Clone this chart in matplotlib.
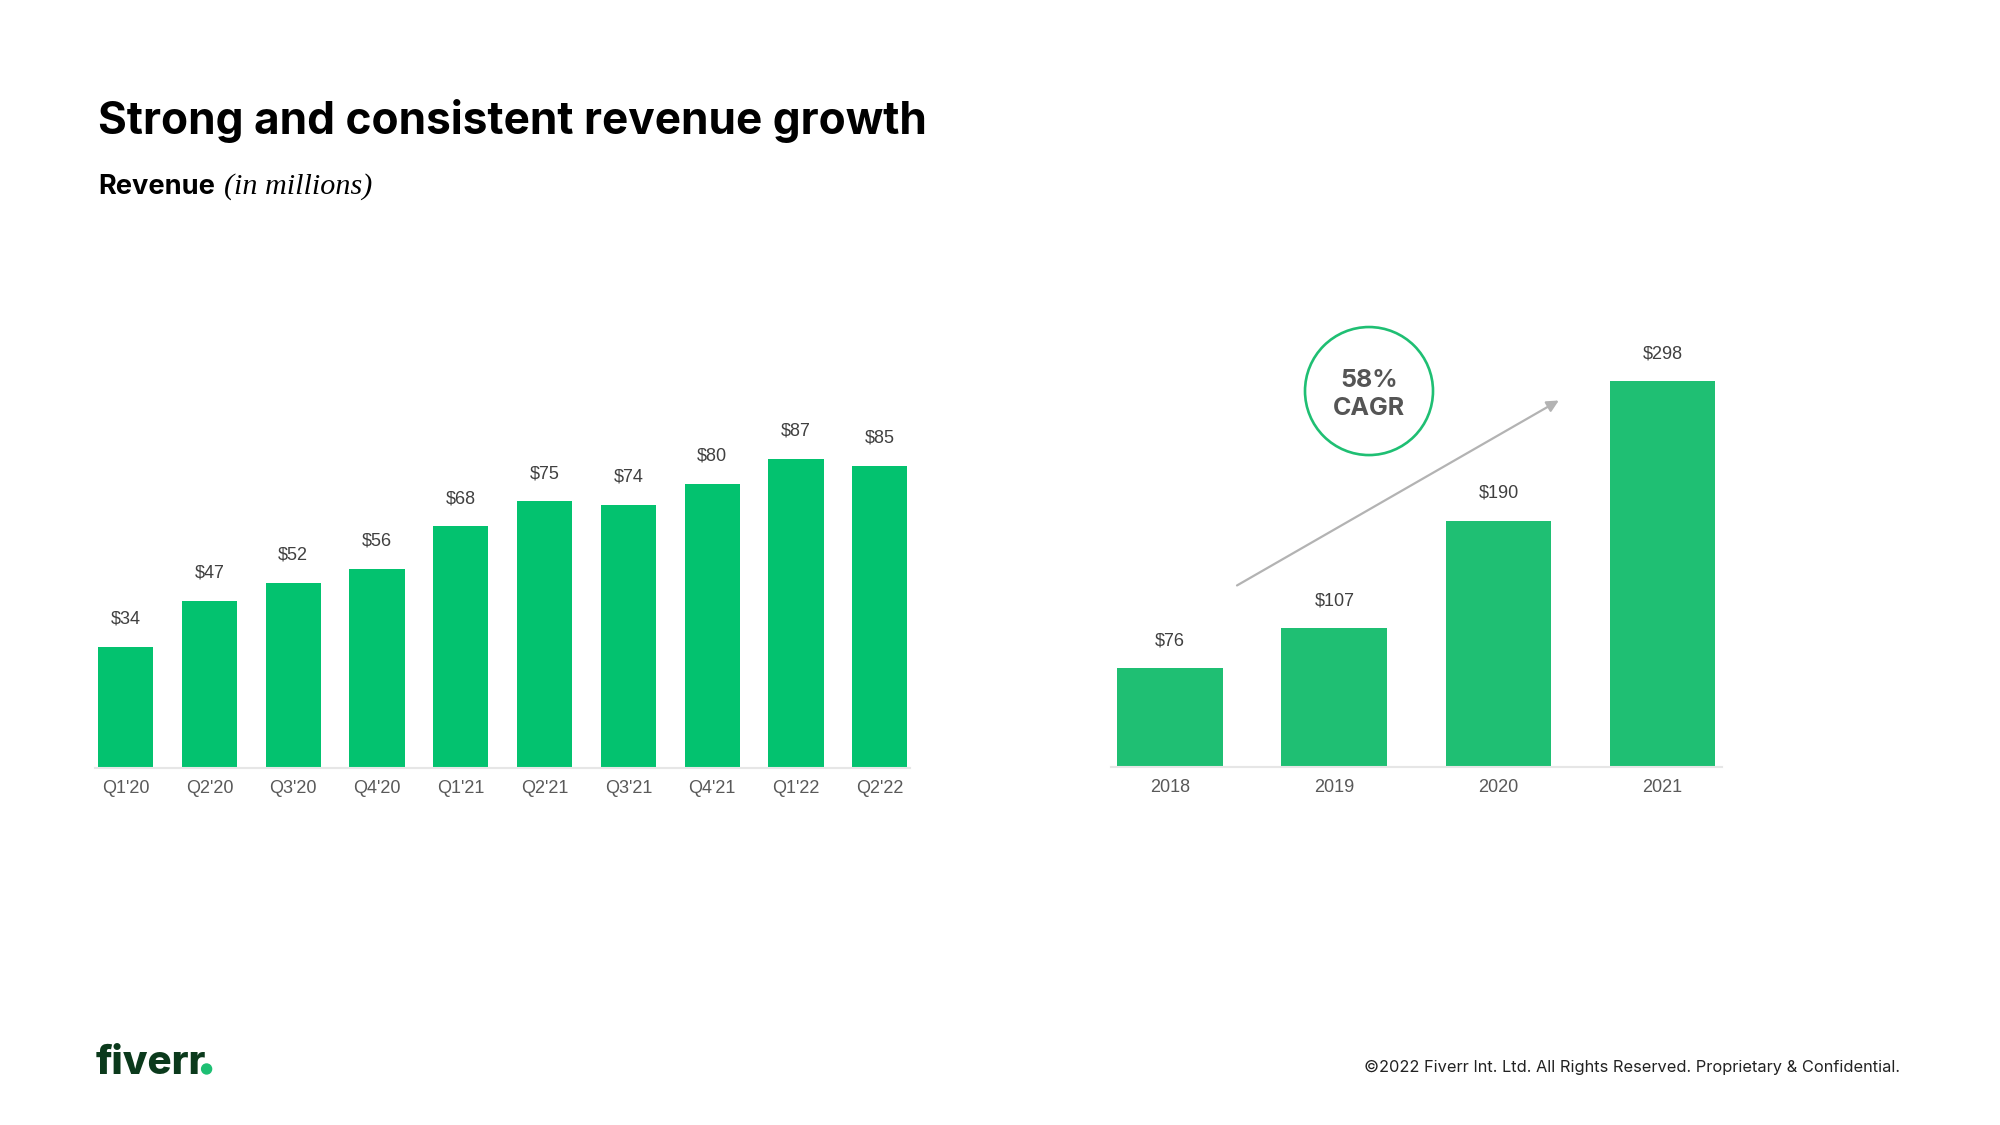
import matplotlib
matplotlib.use("Agg")
import matplotlib.pyplot as plt
from matplotlib.patches import Ellipse, FancyArrowPatch

# ---- data ----
quarters = ["Q1'20", "Q2'20", "Q3'20", "Q4'20", "Q1'21", "Q2'21", "Q3'21", "Q4'21", "Q1'22", "Q2'22"]
quarter_revenue = [34, 47, 52, 56, 68, 75, 74, 80, 87, 85]
years = ["2018", "2019", "2020", "2021"]
annual_revenue = [76, 107, 190, 298]
cagr_text = "58%"

LEFT_GREEN = "#03c26f"
RIGHT_GREEN = "#1fbf73"
LABEL_COLOR = "#404040"
TICK_COLOR = "#595959"
BASE_COLOR = "#e6e6e6"
LABEL_SIZE = 13

fig = plt.figure(figsize=(20, 11.25), dpi=100)
fig.patch.set_facecolor("white")


def style_axes(ax, xlim, ylim):
    ax.set_xlim(*xlim)
    ax.set_ylim(*ylim)
    for s in ["top", "right", "left"]:
        ax.spines[s].set_visible(False)
    ax.spines["bottom"].set_color(BASE_COLOR)
    ax.spines["bottom"].set_linewidth(1.5)
    ax.set_yticks([])
    ax.tick_params(axis="x", length=0, pad=9, labelcolor=TICK_COLOR)
    for lab in ax.get_xticklabels():
        lab.set_fontfamily("Liberation Sans")
        lab.set_fontsize(LABEL_SIZE)


# ---- left chart: quarterly ----
ax1 = fig.add_axes([0.0477, 0.3175, 0.4073, 0.3141])
x1 = list(range(len(quarters)))
bars1 = ax1.bar(x1, quarter_revenue, width=0.66, color=LEFT_GREEN)
ax1.set_xticks(x1)
ax1.set_xticklabels(quarters)
style_axes(ax1, (-0.36, len(quarters) - 1 + 0.36), (0, 99.5))
for b, v in zip(bars1, quarter_revenue):
    ax1.annotate(f"${v}", xy=(b.get_x() + b.get_width() / 2, v), xytext=(0, 20),
                 textcoords="offset points", ha="center", va="center",
                 fontsize=LABEL_SIZE, family="Liberation Sans", color=LABEL_COLOR)

# ---- right chart: annual ----
ax2 = fig.add_axes([0.5556, 0.3185, 0.3052, 0.3677])
x2 = list(range(len(years)))
bars2 = ax2.bar(x2, annual_revenue, width=0.645, color=RIGHT_GREEN)
ax2.set_xticks(x2)
ax2.set_xticklabels(years)
style_axes(ax2, (-0.36, len(years) - 1 + 0.36), (0, 320))
for b, v in zip(bars2, annual_revenue):
    ax2.annotate(f"${v}", xy=(b.get_x() + b.get_width() / 2, v), xytext=(0, 20),
                 textcoords="offset points", ha="center", va="center",
                 fontsize=LABEL_SIZE, family="Liberation Sans", color=LABEL_COLOR)

# CAGR arrow
fig.add_artist(FancyArrowPatch(
    (0.6185, 0.4796), (0.7794, 0.6440), transform=fig.transFigure,
    arrowstyle="-|>,head_length=7,head_width=3.5", color="#b3b3b3", lw=1.6,
    shrinkA=0, shrinkB=0))

# CAGR circle
fig.add_artist(Ellipse((0.6845, 0.6524), 0.064, 0.1138, transform=fig.transFigure,
                       fill=False, edgecolor="#1fbf73", lw=1.9))
fig.text(0.6845, 0.6618, cagr_text, ha="center", va="center", fontsize=18,
         family="Inter", weight="bold", color="#555555")
fig.text(0.6845, 0.6369, "CAGR", ha="center", va="center", fontsize=18,
         family="Inter", weight="bold", color="#555555")

# ---- titles ----
fig.text(0.049, 0.8809, "Strong and consistent revenue growth", ha="left", va="baseline",
         fontsize=31.8, family="Inter", weight="bold", color="#000000")
t_rev = fig.text(0.049, 0.8276, "Revenue", ha="left", va="baseline",
                 fontsize=19.6, family="Inter", weight="bold", color="#000000")
t_unit = fig.text(0.1, 0.8276, "(in millions)", ha="left", va="baseline", fontsize=21.7,
                  family="Liberation Serif", style="italic", color="#000000")
fig.canvas.draw()
bb = t_rev.get_window_extent()
t_unit.set_position(((bb.x1 + 9) / 2000, 0.8276))

# ---- footer ----
fig.text(0.048, 0.0453, "fiverr", ha="left", va="baseline", fontsize=29,
         family="Inter", weight="heavy", color="#0b3a1c")
fig.add_artist(Ellipse((0.1033, 0.0498), 10 / 2000, 10 / 1125, transform=fig.transFigure,
                       color="#1dbf73"))
fig.text(0.95, 0.051, "\u00a92022 Fiverr Int. Ltd. All Rights Reserved. Proprietary & Confidential.",
         ha="right", va="center", fontsize=11.8, family="Inter", color="#222222")

fig.savefig("out.png", dpi=100, facecolor="white")
